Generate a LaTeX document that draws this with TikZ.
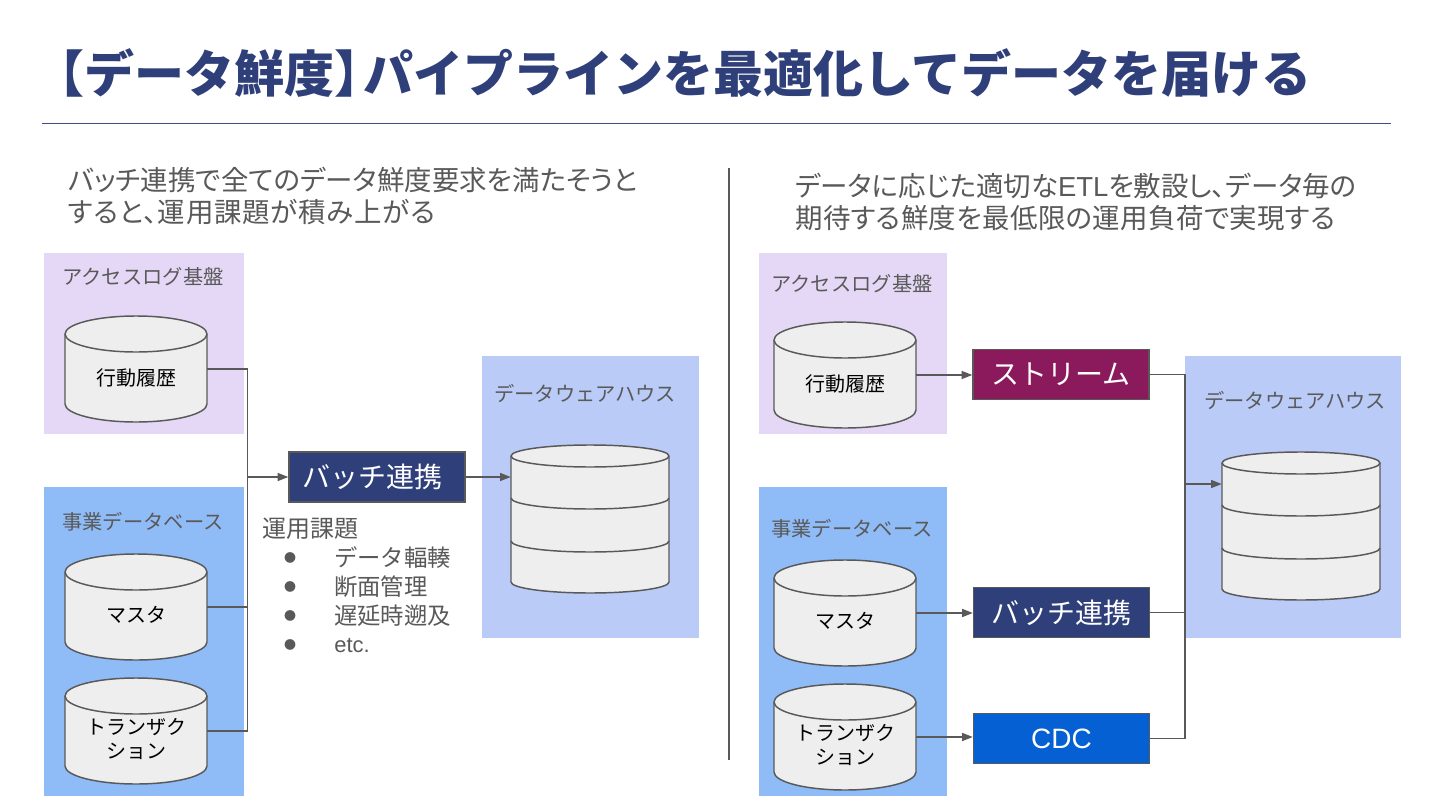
\documentclass[tikz,border=0pt]{standalone}
\usepackage{fontspec}
\setmainfont{Noto Sans CJK JP}
\newfontfamily\latinf{Liberation Sans}
\newfontfamily\paltf[RawFeature=+palt]{Noto Sans CJK JP}
\usetikzlibrary{arrows.meta}
\definecolor{ink}{HTML}{595959}
\definecolor{navy}{HTML}{2F3F7A}
\definecolor{plum}{HTML}{8A1A5C}
\definecolor{cdcblue}{HTML}{0560D4}
\definecolor{lilac}{HTML}{E5D8F6}
\definecolor{skyb}{HTML}{8FBBF6}
\definecolor{paleb}{HTML}{B9CBF6}
\definecolor{cylf}{HTML}{EEEEEE}
\definecolor{rulec}{HTML}{3F4C8C}
\tikzset{
  zone/.style={fill=#1,draw=none},
  grouplabel/.style={text=ink,font=\fontsize{15.2}{18}\selectfont,inner sep=0pt},
  cyllabel/.style={text=black,font=\fontsize{15}{18}\selectfont,inner sep=0pt,align=center},
  cylmark/.style={inner sep=0pt,draw=none},
  procbox/.style={fill=#1,draw=ink,line width=1.1pt,text=white,font=\fontsize{21}{25}\selectfont,inner sep=0pt,minimum height=37.5pt,minimum width=132pt},
  lead/.style={text=ink,font=\paltf\fontsize{20.6}{24.4}\selectfont,inner sep=0pt,align=left,anchor=west},
  listitem/.style={text=ink,font=\fontsize{17.5}{21}\selectfont,inner sep=0pt,anchor=west},
  bulletmark/.style={text=ink,font=\fontsize{9}{11}\selectfont,inner sep=0pt},
  wire/.style={draw=ink,line width=1.1pt},
  arrowwire/.style={draw=ink,line width=1.1pt,-{Triangle[length=8pt,width=6pt]}},
  cylline/.style={draw=ink,line width=1.1pt},
}
% name, cx, half width, top, bottom, ry
\newcommand{\dbcyl}[6]{%
  \pgfmathsetmacro\cL{#2-#3}\pgfmathsetmacro\cR{#2+#3}%
  \pgfmathsetmacro\cT{#4+#6}\pgfmathsetmacro\cB{#5-#6}%
  \pgfmathsetmacro\kx{0.5523*#3}\pgfmathsetmacro\ky{0.5523*#6}%
  \pgfmathsetmacro\cMid{(#4+#5)/2}%
  \path[cylline,fill=cylf] (\cL,\cT) -- (\cL,\cB)
    .. controls (\cL,\cB+\ky) and (#2-\kx,#5) .. (#2,#5)
    .. controls (#2+\kx,#5) and (\cR,\cB+\ky) .. (\cR,\cB)
    -- (\cR,\cT)
    .. controls (\cR,\cT-\ky) and (#2+\kx,#4) .. (#2,#4)
    .. controls (#2-\kx,#4) and (\cL,\cT-\ky) .. cycle;
  \dbband{#2}{#3}{\cT}{#6}%
  \node[cylmark,minimum width=2*#3*0.75pt,minimum height=(#5-#4)*0.75pt] (#1) at (#2,\cMid) {};%
}
% cx, half width, y, ry : lower half of an ellipse
\newcommand{\dbband}[4]{%
  \pgfmathsetmacro\bL{#1-#2}\pgfmathsetmacro\bR{#1+#2}%
  \pgfmathsetmacro\bkx{0.5523*#2}\pgfmathsetmacro\bky{0.5523*#4}%
  \path[cylline] (\bL,#3) .. controls (\bL,#3+\bky) and (#1-\bkx,#3+#4) .. (#1,#3+#4)
    .. controls (#1+\bkx,#3+#4) and (\bR,#3+\bky) .. (\bR,#3);%
}
\begin{document}
\begin{tikzpicture}[x=0.75pt,y=-0.75pt]
\useasboundingbox (0,0) rectangle (1440,810);
% title
\node[anchor=west,inner sep=0pt,text=navy,font=\fontsize{37.5}{44}\bfseries\selectfont] (title) at (34,73.5) {【データ鮮度】\hspace{-15.75pt}パイプラインを最適化してデータを届ける};
\coordinate (ruleL) at (42,123.5);
\coordinate (ruleR) at (1391,123.5);
\draw[draw=rulec,line width=1pt] (ruleL) -- (ruleR);
\coordinate (divT) at (729,168);
\coordinate (divB) at (729,760);
\draw[draw=ink,line width=1.1pt] (divT) -- (divB);
% lead text
\node[lead] (leadL) at (68,196) {バッチ連携で全てのデータ鮮度要求を満たそうと\\{\addfontfeature{LetterSpace=3}すると、運用課題が積み上がる}};
\node[lead] (leadR) at (795,202) {データに応じた適切な{\latinf ETL}を敷設し、データ毎の\\{\addfontfeature{LetterSpace=1.3}期待する鮮度を最低限の運用負荷で実現する}};
% zones left
\fill[zone=lilac] (44,253) rectangle (244,434);
\fill[zone=skyb] (44,487) rectangle (244,796);
\fill[zone=paleb] (482,356) rectangle (699,638);
% zones right
\fill[zone=lilac] (759,253) rectangle (947,434);
\fill[zone=skyb] (759,487) rectangle (947,796);
\fill[zone=paleb] (1185,356) rectangle (1401,638);
% zone labels
\node[grouplabel] (gl1) at (143,277) {アクセスログ基盤};
\node[grouplabel] (gl2) at (143,522) {事業データベース};
\node[grouplabel] (gl3) at (585,393.5) {データウェアハウス};
\node[grouplabel] (gr1) at (852,284) {アクセスログ基盤};
\node[grouplabel] (gr2) at (852,529) {事業データベース};
\node[grouplabel] (gr3) at (1295,400.5) {データウェアハウス};
% cylinders left
\dbcyl{lc1}{136}{71}{316}{422}{18}
\dbcyl{lc2}{136}{71}{554}{660}{18}
\dbcyl{lc3}{136}{71}{678}{784}{18}
\dbcyl{ldw}{590}{79}{445}{593}{11}
\dbband{590}{79}{498}{11}
\dbband{590}{79}{541}{11}
% cylinders right
\dbcyl{rc1}{845}{71}{322}{428}{18}
\dbcyl{rc2}{845}{71}{560}{666}{18}
\dbcyl{rc3}{845}{71}{684}{790}{18}
\dbcyl{rdw}{1301}{79}{452}{600}{11}
\dbband{1301}{79}{505}{11}
\dbband{1301}{79}{548}{11}
% cylinder labels
\node[cyllabel] (t1) at (136,378) {行動履歴};
\node[cyllabel] (t2) at (136,615) {マスタ};
\node[cyllabel] (t3) at (136,739) {トランザク\\ション};
\node[cyllabel] (t4) at (845,384) {行動履歴};
\node[cyllabel] (t5) at (845,621) {マスタ};
\node[cyllabel] (t6) at (845,745) {トランザク\\ション};
% process boxes
\node[procbox=navy] (batchL) at (377,477) {バッチ連携\hspace*{7.5pt}};
\node[procbox=plum] (stream) at (1061,374.5) {ストリーム};
\node[procbox=navy] (batchR) at (1061.5,612.5) {バッチ連携};
\node[procbox=cdcblue] (cdc) at (1061.5,738.5) {\latinf CDC};
% list
\node[listitem,font=\fontsize{18}{21}\selectfont] (lh) at (262,529) {運用課題};
\node[bulletmark] (b1) at (290,558) {●};
\node[bulletmark] (b2) at (290,587) {●};
\node[bulletmark] (b3) at (290,616) {●};
\node[bulletmark] (b4) at (290,645) {●};
\node[listitem] (i1) at (334,558) {データ輻輳};
\node[listitem] (i2) at (334,587) {断面管理};
\node[listitem] (i3) at (334,616) {遅延時遡及};
\node[listitem,font=\latinf\fontsize{16.5}{20}\selectfont] (i4) at (334,645) {etc.};
% connectors left
\coordinate (busL) at (247.5,477);
\draw[wire] (lc1.east) -| (busL);
\draw[wire] (lc3.east) -| (busL);
\draw[wire] (lc2.east) -- (lc2.east -| busL);
\draw[arrowwire] (busL) -- (batchL.west);
\draw[arrowwire] (batchL.east) -- (batchL.east -| ldw.west);
% connectors right
\coordinate (busR) at (1185,484);
\draw[arrowwire] (rc1.east) -- (rc1.east -| stream.west);
\draw[arrowwire] (rc2.east) -- (rc2.east -| batchR.west);
\draw[arrowwire] (rc3.east) -- (rc3.east -| cdc.west);
\draw[wire] (stream.east) -| (busR);
\draw[wire] (cdc.east) -| (busR);
\draw[wire] (batchR.east) -- (batchR.east -| busR);
\draw[arrowwire] (busR) -- (busR -| rdw.west);
\end{tikzpicture}
\end{document}
